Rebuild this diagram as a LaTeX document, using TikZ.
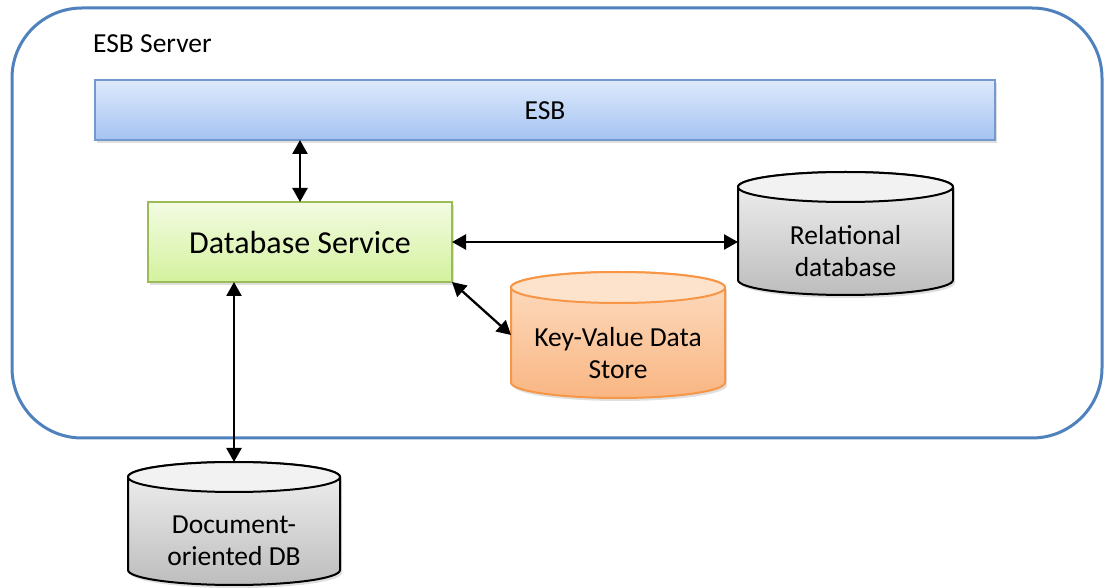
\documentclass[tikz,border=0pt]{standalone}
\usepackage{fontspec}
\setmainfont{Carlito}
\usetikzlibrary{arrows.meta,shadows}
\definecolor{outerblue}{HTML}{4F81BD}
\definecolor{esbtop}{HTML}{DDE9FC}
\definecolor{esbbot}{HTML}{A5C3F1}
\definecolor{esbline}{HTML}{7399D0}
\definecolor{dbstop}{HTML}{F3FBE2}
\definecolor{dbsbot}{HTML}{D4F29E}
\definecolor{dbsline}{HTML}{9BBB59}
\definecolor{graytop}{HTML}{F2F2F2}
\definecolor{graybot}{HTML}{BDBDBD}
\definecolor{orcap}{HTML}{FDE3CC}
\definecolor{ortop}{HTML}{FDDDC2}
\definecolor{orbot}{HTML}{F9B683}
\definecolor{orline}{HTML}{F79646}
\newcommand\drawcyl[7]{%
  \path[#6] (#1-#2,#3-#5) -- (#1-#2,#4+#5)
     arc[start angle=180,end angle=360,x radius=#2,y radius=#5]
     -- (#1+#2,#3-#5)
     arc[start angle=0,end angle=180,x radius=#2,y radius=#5] -- cycle;
  \path[#7] (#1,#3-#5) ellipse[x radius=#2,y radius=#5];}
\tikzset{
  txt/.style={font=\fontsize{27.5}{32}\selectfont, align=center, inner sep=0pt},
  anchorbox/.style={inner sep=0pt, outer sep=0pt, draw=none},
  conn/.style={line width=2.3pt, {Triangle[length=14pt,width=15pt]}-{Triangle[length=14pt,width=15pt]}},
  shad/.style={drop shadow={opacity=0.25, shadow xshift=2pt, shadow yshift=-3pt}},
}
\begin{document}
\begin{tikzpicture}[x=1pt,y=1pt]
\useasboundingbox (0,0) rectangle (1104,587);
% outer server
\node[anchorbox, draw=outerblue, line width=3pt, rounded corners=70pt,
      minimum width=1090pt, minimum height=430pt] (server) at (557,364) {};
\node[txt, anchor=west] (srvlbl) at (93,543) {ESB Server};
% ESB
\node[anchorbox, draw=esbline, line width=1.5pt, top color=esbtop, bottom color=esbbot, shad,
      minimum width=900pt, minimum height=60pt] (esb) at (545,477) {};
\node[txt] (esbtxt) at (545,476) {ESB};
% Database service
\node[anchorbox, draw=dbsline, line width=1.5pt, top color=dbstop, bottom color=dbsbot, shad,
      minimum width=304pt, minimum height=80pt] (dbs) at (300,345) {};
\node[txt, font=\fontsize{32}{36}\selectfont] (dbstxt) at (300,344) {Database Service};
% Relational database
\drawcyl{845.5}{107.5}{415}{292}{15}{draw=black, line width=2pt, top color=graytop, bottom color=graybot, shad}{draw=black, line width=2pt, fill=graytop}
\node[anchorbox, minimum width=215pt, minimum height=123pt] (rel) at (845.5,353.5) {};
\node[txt] (reltxt) at (845.5,336) {Relational\\database};
% Key-value store
\drawcyl{618}{107}{315}{189}{15.5}{draw=orline, line width=2pt, top color=ortop, bottom color=orbot, shad}{draw=orline, line width=2pt, fill=orcap}
\node[anchorbox, minimum width=214pt, minimum height=126pt] (kv) at (618,252) {};
\node[txt] (kvtxt) at (618,234) {Key-Value Data\\Store};
% Document-oriented DB
\drawcyl{234}{106}{125}{2}{15}{draw=black, line width=2pt, top color=graytop, bottom color=graybot, shad}{draw=black, line width=2pt, fill=graytop}
\node[anchorbox, minimum width=212pt, minimum height=123pt] (doc) at (234,63.5) {};
\node[txt] (doctxt) at (234,46) {Document-\\oriented DB};
% connectors
\draw[conn] (dbs.north) -- (dbs.north |- esb.south);
\draw[conn] (dbs.east) -- (dbs.east -| rel.west);
\draw[conn] (dbs.south east) -- (kv.west);
\draw[conn] (doc.north) -- (doc.north |- dbs.south);
\end{tikzpicture}
\end{document}
